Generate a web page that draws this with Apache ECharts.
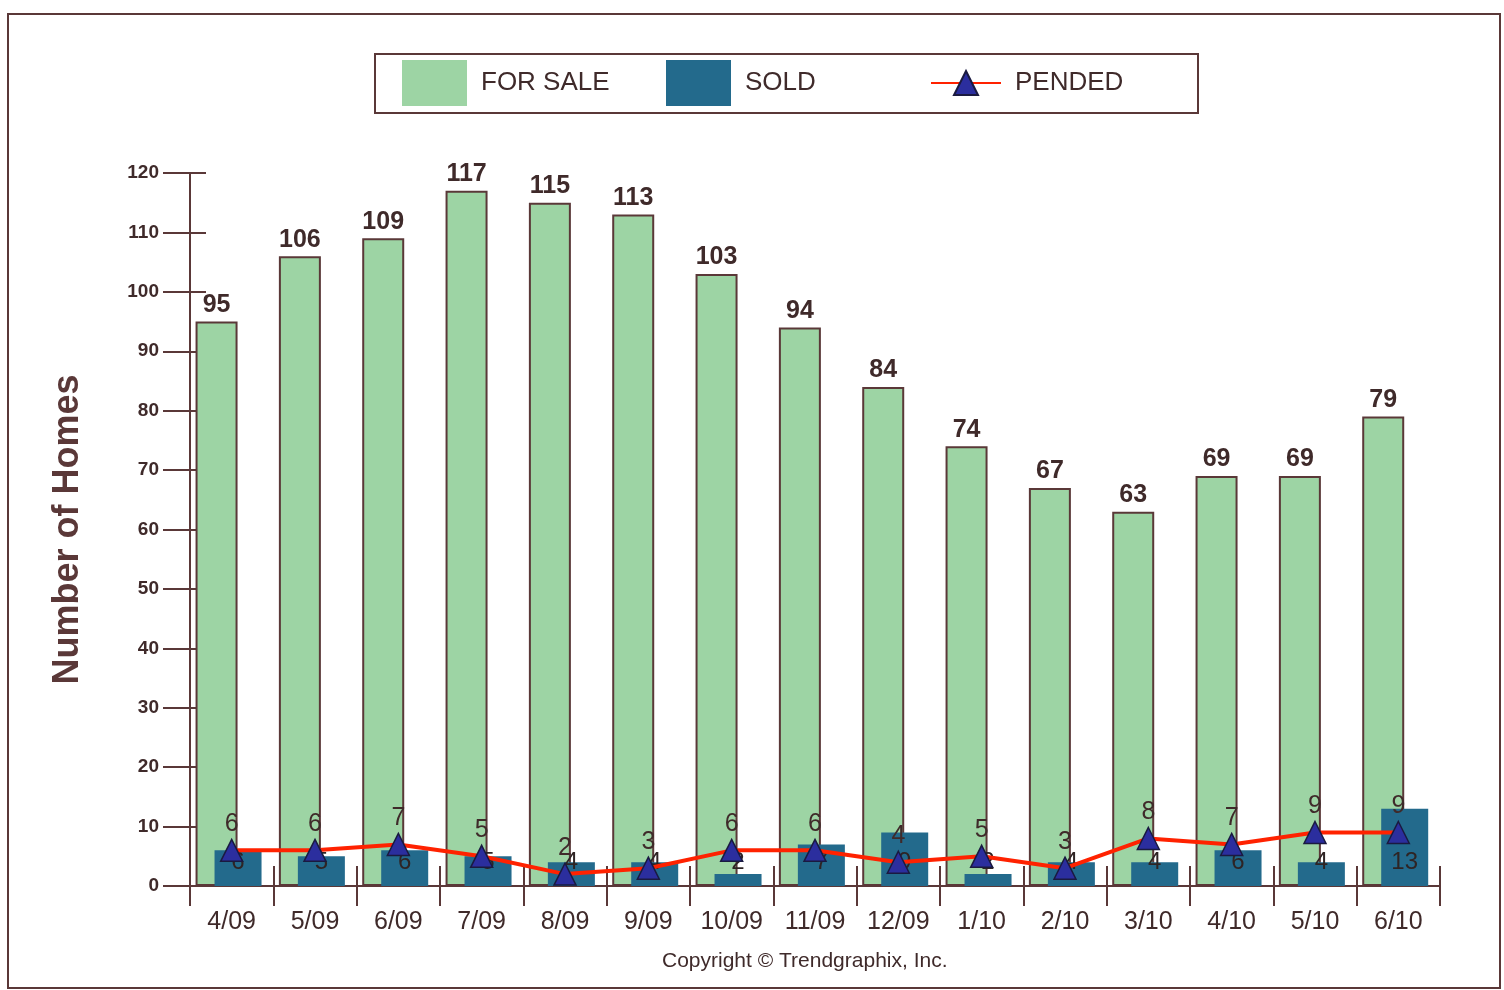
<!DOCTYPE html>
<html><head><meta charset="utf-8">
<script src="https://cdn.jsdelivr.net/npm/echarts@6/dist/echarts.min.js"></script>
<style>html,body{margin:0;padding:0;background:#fff}#c{width:1504px;height:990px}</style>
</head><body><div id="c"></div>
<script>
const categories = ['4/09','5/09','6/09','7/09','8/09','9/09','10/09','11/09','12/09','1/10','2/10','3/10','4/10','5/10','6/10'];
const forSale = [95,106,109,117,115,113,103,94,84,74,67,63,69,69,79];
const sold = [6,5,6,5,4,4,2,7,9,2,4,4,6,4,13];
const pended = [6,6,7,5,2,3,6,6,4,5,3,8,7,9,9];

const txt = '#3f2a2a';
const axisCol = '#5a3838';
const font = 'Liberation Sans, Arial, sans-serif';
const chart = echarts.init(document.getElementById('c'));
const legendBase = {
  top: 60, itemWidth: 65, itemHeight: 46, itemGap: 14, padding: 0, icon: 'rect',
  textStyle: {fontSize: 26, color: txt, fontFamily: font, padding: [4, 0, 0, 9]},
  selectedMode: false
};
chart.setOption({
  animation: false,
  backgroundColor: '#fff',
  graphic: [
    {type: 'rect', shape: {x: 8, y: 14, width: 1492, height: 974}, style: {fill: 'none', stroke: axisCol, lineWidth: 2}, z: -10},
    {type: 'rect', shape: {x: 375, y: 54, width: 823, height: 59}, style: {fill: '#fff', stroke: axisCol, lineWidth: 2}, z: -5},
    {type: 'text', left: 662, top: 951, style: {text: 'Copyright © Trendgraphix, Inc.', fontSize: 21, fill: txt, fontFamily: font}}
  ],
  legend: [
    Object.assign({}, legendBase, {left: 402, data: ['FOR SALE'], itemStyle: {borderWidth: 0}}),
    Object.assign({}, legendBase, {left: 666, data: ['SOLD']}),
    Object.assign({}, legendBase, {left: 930, icon: null, itemWidth: 70, itemHeight: 30, top: 70, data: ['PENDED'],
      textStyle: {fontSize: 26, color: txt, fontFamily: font, padding: [4, 0, 0, 9]}})
  ],
  grid: {left: 190, right: 64, top: 173, bottom: 104, containLabel: false},
  xAxis: [
    {type: 'category', data: categories, position: 'bottom',
     axisLine: {lineStyle: {color: axisCol, width: 2}},
     axisTick: {show: true, length: 20, lineStyle: {color: axisCol, width: 2}},
     axisLabel: {fontSize: 25, color: txt, fontFamily: font, margin: 24}},
    {type: 'category', data: categories, position: 'bottom',
     axisLine: {show: false},
     axisTick: {show: true, inside: true, length: 20, lineStyle: {color: axisCol, width: 2}},
     axisLabel: {show: false}}
  ],
  yAxis: [
    {type: 'value', min: 0, max: 120, interval: 10, position: 'left',
     axisLine: {show: true, lineStyle: {color: axisCol, width: 2}},
     axisTick: {show: true, length: 27, lineStyle: {color: axisCol, width: 2}},
     axisLabel: {fontSize: 19, color: txt, fontFamily: font, fontWeight: 'bold', margin: 31},
     splitLine: {show: false},
     name: 'Number of Homes', nameLocation: 'middle', nameGap: 104, nameRotate: 90,
     nameTextStyle: {fontSize: 36, fontWeight: 'bold', color: axisCol, fontFamily: font}},
    {type: 'value', min: 0, max: 120, interval: 10, position: 'left', offset: 0,
     axisLine: {show: false},
     axisTick: {show: true, inside: true, length: 16, lineStyle: {color: axisCol, width: 2}},
     axisLabel: {show: false}, splitLine: {show: false}}
  ],
  series: [
    {name: 'FOR SALE', type: 'bar', data: forSale, barWidth: 42, barGap: '-54.8%',
     itemStyle: {color: '#9dd4a4', borderColor: axisCol, borderWidth: 2},
     label: {show: true, position: 'top', distance: 4, fontSize: 25, fontWeight: 'bold', color: txt, fontFamily: font}, z: 2},
    {name: 'SOLD', type: 'bar', data: sold, barWidth: 47,
     itemStyle: {color: '#236a8c'},
     label: {show: true, position: 'insideBottom', distance: 12, fontSize: 24, color: '#2e2424', fontFamily: font}, z: 3},
    {name: 'spacer', type: 'bar', data: [], barWidth: 32, silent: true, itemStyle: {opacity: 0}},
    {name: 'PENDED', type: 'line', data: pended, symbol: 'triangle', symbolSize: [22, 22],
     lineStyle: {color: '#ff2200', width: 4},
     itemStyle: {color: '#2b2e9e', borderColor: '#1a1a40', borderWidth: 1.5},
     label: {show: true, position: 'top', distance: 2, fontSize: 25, color: txt, fontFamily: font}, z: 5}
  ]
});
</script></body></html>
